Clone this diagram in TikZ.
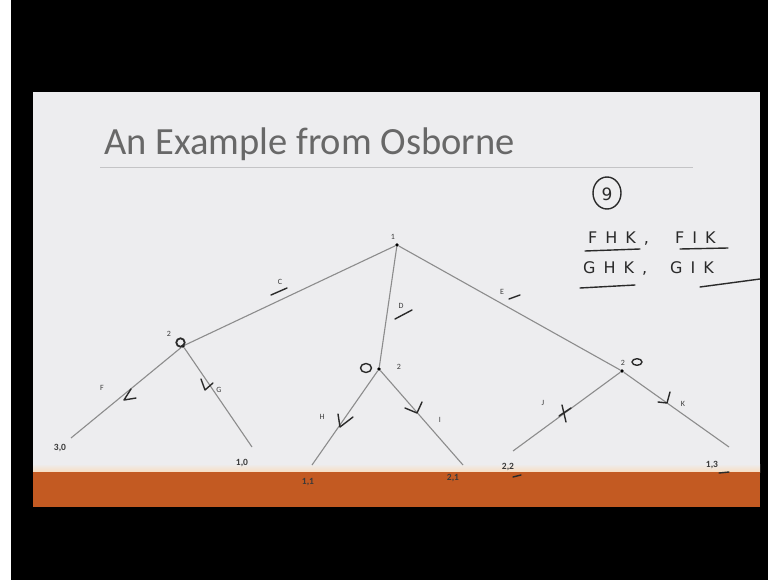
\documentclass[tikz,border=0pt]{standalone}
\usepackage{fontspec}
\setmainfont{Carlito}
\newfontfamily\handfont[LetterSpace=50]{DejaVu Sans}
\newfontfamily\handplain{DejaVu Sans}
\definecolor{slidebg}{HTML}{EDEDEF}
\definecolor{barorange}{HTML}{C35A22}
\definecolor{barlight}{HTML}{F8DDC0}
\definecolor{titlegray}{HTML}{686868}
\definecolor{rulegray}{HTML}{C4C4C6}
\definecolor{edgegray}{HTML}{8C8C8C}
\definecolor{labgray}{HTML}{3C3C3C}
\definecolor{paygray}{HTML}{3A3A3A}
\definecolor{inkgray}{HTML}{2A2A2A}
\begin{document}
\begin{tikzpicture}[x=1pt,y=-1pt,
  edge/.style={draw=edgegray,line width=1.1pt},
  dotnode/.style={circle,fill=black,inner sep=0pt,minimum size=3.6pt},
  lab/.style={font=\fontsize{8}{8}\selectfont,text=labgray,inner sep=0pt},
  pay/.style={font=\fontsize{9.5}{9.5}\selectfont\bfseries,text=paygray,inner sep=0pt},
  hand/.style={draw=inkgray,line width=1.4pt,line cap=round,line join=round},
  handtext/.style={font=\handfont\fontsize{16}{16}\selectfont,text=inkgray,inner sep=0pt,anchor=base west}]
\useasboundingbox (0,0) rectangle (768,580);
% background and slide
\fill[black] (0,0) rectangle (768,580);
\fill[white] (0,0) rectangle (11,580);
\fill[slidebg] (33,92) rectangle (760,472);
\shade[top color=slidebg,bottom color=barlight] (33,464) rectangle (760,472);
\fill[barorange] (33,472) rectangle (760,507);
% title
\node[anchor=base west,font=\fontsize{38.5}{38.5}\selectfont,text=titlegray,inner sep=0pt] (title) at (104,155) {An Example from Osborne};
\draw[rulegray,line width=1pt] (100,168) -- (693,168);
% tree nodes
\node[dotnode] (root) at (397,245) {};
\node[dotnode] (nL) at (183,346) {};
\node[dotnode] (nM) at (379,369) {};
\node[dotnode] (nR) at (622,371) {};
\coordinate (eF) at (71,438);
\coordinate (eG) at (252,447);
\coordinate (eH) at (312,465);
\coordinate (eI) at (463,465);
\coordinate (eJ) at (513,451);
\coordinate (eK) at (729,447);
% edges
\draw[edge] (root) -- (nL);
\draw[edge] (root) -- (nM);
\draw[edge] (root) -- (nR);
\draw[edge] (nL) -- (eF);
\draw[edge] (nL) -- (eG);
\draw[edge] (nM) -- (eH);
\draw[edge] (nM) -- (eI);
\draw[edge] (nR) -- (eJ);
\draw[edge] (nR) -- (eK);
% player labels
\node[lab] (p1) at (393,237) {1};
\node[lab] (pL) at (169,334) {2};
\node[lab] (pM) at (399,367) {2};
\node[lab] (pR) at (623,363) {2};
% action labels
\node[lab] (aC) at (280,282) {C};
\node[lab] (aD) at (401,306) {D};
\node[lab] (aE) at (502,292) {E};
\node[lab] (aF) at (102,388) {F};
\node[lab] (aG) at (219,390) {G};
\node[lab] (aH) at (322,417) {H};
\node[lab] (aI) at (440,420) {I};
\node[lab] (aJ) at (543,403) {J};
\node[lab] (aK) at (683,404) {K};
% payoffs
\node[pay] (o1) at (60,448) {3,0};
\node[pay] (o2) at (242,463) {1,0};
\node[pay] (o3) at (308,482) {1,1};
\node[pay] (o4) at (453,478) {2,1};
\node[pay] (o5) at (508,467) {2,2};
\node[pay] (o6) at (712,465) {1,3};
% handwritten marks on the tree
\draw[hand,line width=1.8pt] (180.5,342.5) circle (4.2);
\draw[hand] (366,368) ellipse (5.5 and 4.5);
\draw[hand] (637,362) ellipse (5 and 3.3);
\draw[hand] (271,295) -- (287,288);
\draw[hand] (395,319) -- (412,310);
\draw[hand] (509,299) -- (520,295);
\draw[hand] (131,389) -- (124,400) -- (136,398);
\draw[hand] (201,379) -- (205,390) -- (213,383);
\draw[hand] (338,414) -- (340,427) -- (353,417);
\draw[hand] (405,408) -- (417,413) -- (422,402);
\draw[hand] (562,405) -- (566,422);
\draw[hand] (559,416) -- (571,408);
\draw[hand] (658,402) -- (667,403) -- (670,392);
\draw[hand] (513,477) -- (521,475);
\draw[hand] (719,473) -- (729,472);
% handwritten annotations
\draw[hand] (607,193) ellipse (14 and 16);
\node[font=\handplain\fontsize{17}{17}\selectfont,text=inkgray,inner sep=0pt] (nine) at (607,194) {9};
\node[handtext] (s1) at (588,243) {FHK,};
\node[handtext] (s2) at (675,243) {FIK};
\node[handtext] (s3) at (583,273) {GHK,};
\node[handtext] (s4) at (670,273) {GIK};
\draw[hand] (585,251) -- (640,249);
\draw[hand] (680,249) -- (728,248);
\draw[hand] (580,288) -- (635,285);
\draw[hand] (700,287) -- (760,279);
\end{tikzpicture}
\end{document}
